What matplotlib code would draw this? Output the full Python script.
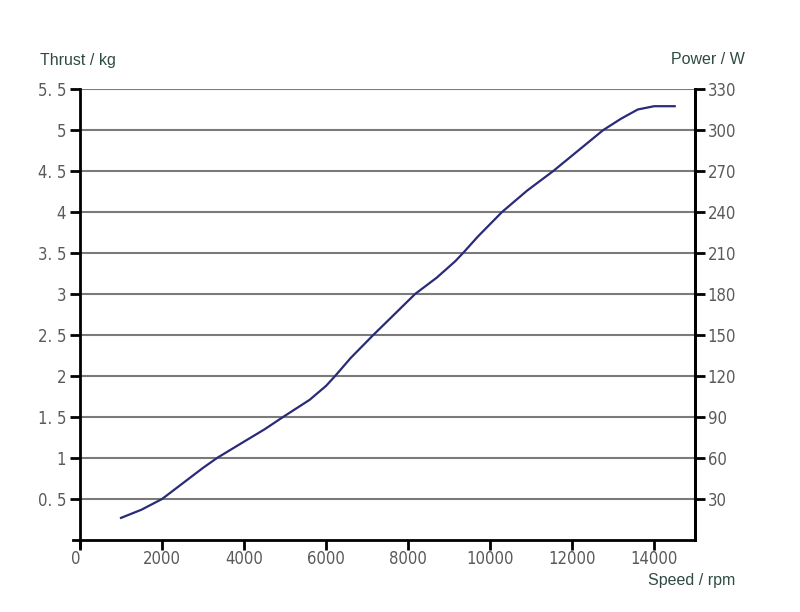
import matplotlib
matplotlib.use("Agg")
import matplotlib.pyplot as plt
from matplotlib import font_manager
from matplotlib.font_manager import FontProperties

rpm = [1000, 1500, 2000, 2500, 3000, 3340, 4000, 4500, 4950, 5600, 6000, 6220, 6600,
       7150, 7600, 8170, 8700, 9150, 9340, 9700, 10290, 10900, 11540, 12150, 12760,
       13200, 13600, 14000, 14500]
thrust = [0.27, 0.37, 0.50, 0.69, 0.88, 1.00, 1.20, 1.35, 1.50, 1.71, 1.88, 2.00, 2.22,
          2.50, 2.72, 3.00, 3.20, 3.40, 3.50, 3.70, 4.00, 4.26, 4.50, 4.75, 5.00,
          5.14, 5.25, 5.29, 5.29]

x_ticks = [0, 2000, 4000, 6000, 8000, 10000, 12000, 14000]
x_labels = ["0", "2000", "4000", "6000", "8000", "10000", "12000", "14000"]
y_ticks = [0.5, 1, 1.5, 2, 2.5, 3, 3.5, 4, 4.5, 5, 5.5]
y_labels = ["0. 5", "1", "1. 5", "2", "2. 5", "3", "3. 5", "4", "4. 5", "5", "5. 5"]
p_ticks = [30, 60, 90, 120, 150, 180, 210, 240, 270, 300, 330]
p_labels = [str(v) for v in p_ticks]

# look for a condensed / narrow font
cands = [f for f in font_manager.fontManager.ttflist
         if ("Narrow" in f.name or "Condensed" in f.name or
             (f.name == "DejaVu Sans" and "ondensed" in f.fname)) and "Bold" not in f.fname
         and "Oblique" not in f.fname and "Italic" not in f.fname]
if cands:
    tick_fp = FontProperties(fname=cands[0].fname, size=12)
else:
    tick_fp = FontProperties(family="DejaVu Sans", size=11)
label_font = ["Liberation Sans", "DejaVu Sans"]

fig = plt.figure(figsize=(8, 6.12), dpi=100)
ax = fig.add_axes([0.1, 0.1176, 0.769, 0.737])
ax.set_xlim(0, 15000)
ax.set_ylim(0, 5.5)

for v in y_ticks:
    ax.axhline(v, color="#7a7a7a", lw=1.5, zorder=1)

ax.plot(rpm, thrust, color="#2a2a78", lw=1.6, zorder=3)

ax.spines["top"].set_visible(False)
for s in ["left", "bottom", "right"]:
    ax.spines[s].set_linewidth(2)
    ax.spines[s].set_color("black")

tick_color = "#5a5a5a"
ax.set_xticks(x_ticks)
ax.set_xticklabels(x_labels, fontproperties=tick_fp, color=tick_color)
ax.set_yticks(y_ticks)
ax.set_yticklabels(y_labels, fontproperties=tick_fp, color=tick_color)
ax.tick_params(axis="y", direction="out", length=7, width=2, color="black", pad=3)
ax.tick_params(axis="x", direction="out", length=7, width=2, color="black", pad=0)
ax.get_xticklabels()[0].set_horizontalalignment("right")

ax2 = ax.twinx()
ax2.set_ylim(0, 330)
ax2.set_yticks(p_ticks)
ax2.set_yticklabels(p_labels, fontproperties=tick_fp, color=tick_color)
ax2.tick_params(axis="y", direction="out", length=7, width=2, color="black", pad=2)
for s in ["top", "left", "bottom"]:
    ax2.spines[s].set_visible(False)
ax2.spines["right"].set_linewidth(2)

# small overhangs at the origin
ax.plot([-0.012, 0], [0, 0], transform=ax.transAxes, color="black", lw=2, clip_on=False)
ax.plot([0, 0], [-0.016, 0], transform=ax.transAxes, color="black", lw=2, clip_on=False)

lab_color = "#2e4a44"
fig.text(40 / 800, 1 - 60 / 612, "Thrust / kg", family=label_font, fontsize=11.5,
         color=lab_color, ha="left", va="center")
fig.text(745 / 800, 1 - 60 / 612, "Power / W", family=label_font, fontsize=11.5,
         color=lab_color, ha="right", va="center")
fig.text(735 / 800, 1 - 580 / 612, "Speed / rpm", family=label_font, fontsize=11.5,
         color=lab_color, ha="right", va="center")

fig.savefig("out.png", dpi=100, facecolor="white")
